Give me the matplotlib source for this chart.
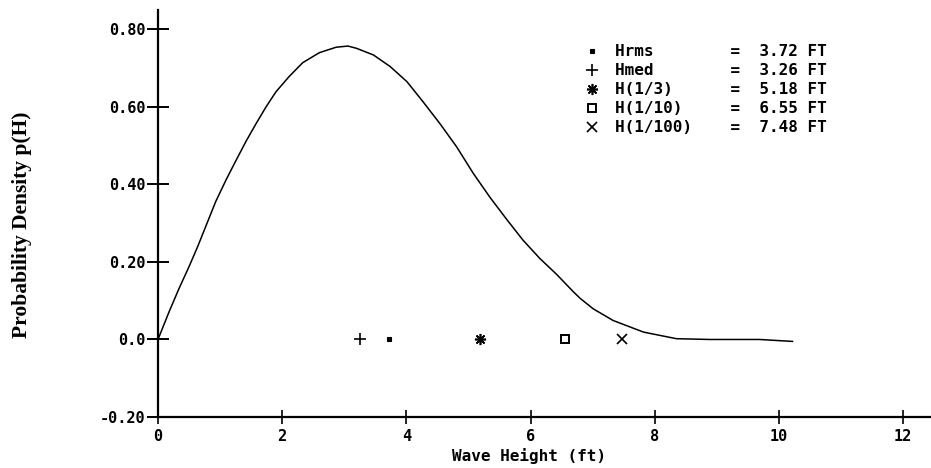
import numpy as np
import matplotlib
matplotlib.use("Agg")
import matplotlib.pyplot as plt

# curve: wave height (ft) vs probability density
wave_h = [0.0, 0.18, 0.34, 0.50, 0.64, 0.77, 0.93, 1.10, 1.26, 1.42, 1.58,
          1.74, 1.90, 2.11, 2.33, 2.60, 2.87, 3.06, 3.20, 3.47, 3.74, 4.01,
          4.27, 4.54, 4.81, 5.08, 5.35, 5.62, 5.88, 6.15, 6.42, 6.69, 6.80,
          7.01, 7.33, 7.82, 8.35, 8.89, 9.69, 10.22]
density = [0.0, 0.072, 0.132, 0.188, 0.240, 0.292, 0.356, 0.413, 0.463,
           0.512, 0.557, 0.600, 0.639, 0.678, 0.714, 0.740, 0.754, 0.757,
           0.751, 0.734, 0.704, 0.665, 0.613, 0.557, 0.497, 0.428, 0.366,
           0.309, 0.256, 0.209, 0.168, 0.123, 0.106, 0.079, 0.049, 0.019,
           0.002, 0.0, 0.0, -0.005]

stat_names = ["Hrms", "Hmed", "H(1/3)", "H(1/10)", "H(1/100)"]
stat_values = [3.72, 3.26, 5.18, 6.55, 7.48]

xticks = [0, 2, 4, 6, 8, 10, 12]
yticks = [-0.20, 0.0, 0.20, 0.40, 0.60, 0.80]
ytick_labels = ["-0.20", "0.0", "0.20", "0.40", "0.60", "0.80"]

mono = "DejaVu Sans Mono"

fig = plt.figure(figsize=(9.31, 4.68), dpi=100)
ax = fig.add_axes([158 / 931, 51 / 468, 773 / 931, 407 / 468])

ax.plot(wave_h, density, color="black", linewidth=1.1)

# marker styles for each statistic
markers = [
    dict(marker="s", ms=2.5, mfc="black", mec="black", mew=0.8),
    dict(marker="+", ms=8, mec="black", mew=1.2),
    dict(marker=(8, 2, 0), ms=8, mec="black", mew=1.2),
    dict(marker="s", ms=6, mfc="none", mec="black", mew=1.4),
    dict(marker="x", ms=6.5, mec="black", mew=1.2),
]
handles = []
labels = []
for name, val, mk in zip(stat_names, stat_values, markers):
    h, = ax.plot([val], [0.0], linestyle="none", **mk)
    handles.append(h)
    labels.append(f"{name:<12}=  {val:.2f} FT")

leg = ax.legend(handles, labels, loc="upper left",
                bbox_to_anchor=(0.553, 0.916), frameon=False,
                handlelength=0.8, handletextpad=1.04, labelspacing=0.25,
                borderpad=0.0, borderaxespad=0.0,
                prop=dict(family=mono, weight="bold", size=11.5))

ax.set_xlim(0, 12.45)
ax.set_ylim(-0.20, 0.85)
ax.set_xticks(xticks)
ax.set_xticklabels([str(t) for t in xticks])
ax.set_yticks(yticks)
ax.set_yticklabels(ytick_labels)

for side in ["top", "right"]:
    ax.spines[side].set_visible(False)
for side in ["left", "bottom"]:
    ax.spines[side].set_linewidth(1.6)
    ax.spines[side].set_color("black")

ax.tick_params(axis="y", direction="inout", length=16, width=1.4, pad=1,
               labelsize=11)
ax.tick_params(axis="x", direction="inout", length=9.5, width=1.2, pad=4,
               labelsize=11)
for lab in ax.get_xticklabels() + ax.get_yticklabels():
    lab.set_family(mono)
    lab.set_weight("bold")

ax.set_xlabel("Wave Height (ft)", family=mono, weight="bold", fontsize=11.5)
ax.xaxis.set_label_coords(0.48, -0.076)
ax.set_ylabel("Probability Density p(H)", family="Liberation Serif",
              weight="bold", fontsize=15.5)
ax.yaxis.set_label_coords(-0.163, 0.472)

fig.savefig("out.png", dpi=100)
